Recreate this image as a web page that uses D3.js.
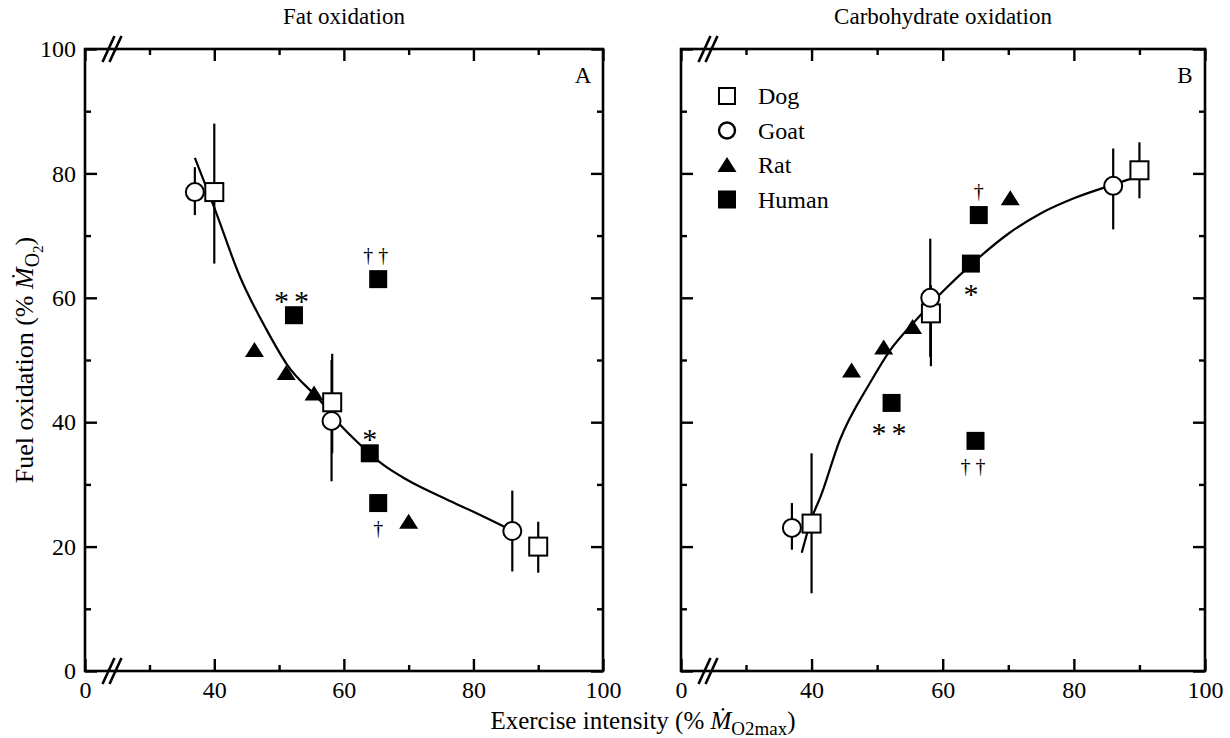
<header>
	<script src="https://d3js.org/d3.v7.min.js"></script>
</header>
<style>
	body {
		margin: 0;
		background: white;
	}
	text {
		font-family: "Liberation Serif", "Times New Roman", serif;
		fill: black;
	}
</style>

<script>

// rows: intensity (% MO2max), value (% MO2), error low, error high
const fatDog = [[40, 77, 65.5, 88], [58.2, 43.2, 35, 51], [90, 20, 15.8, 24]];
const fatGoat = [[37, 77, 73.3, 81], [58.1, 40.2, 30.5, 50], [86, 22.5, 16, 29]];
const fatRat = [[46.2, 51.6], [51.1, 47.9], [55.4, 44.6], [70, 24]];
const fatHuman = [[52.3, 57.2], [65.3, 63], [64, 35], [65.3, 27]];
const fatMarks = ["**", "\u2020\u2020", "*", "\u2020"];
const fatMarkSide = ["above", "above", "above", "below"];
const fatCurve = [
	[37, 82.5], [40, 74.5], [44, 63.3], [48, 55], [51.2, 49.3], [56.4, 43.4],
	[59.5, 39.5], [62.6, 36.3], [66, 33.2], [69.8, 30.7], [75, 28], [80, 25.6], [86.5, 22.3]
	];

const carbDog = [[40, 23.7, 12.5, 35], [58.2, 57.5, 49, 62], [90, 80.5, 76, 85]];
const carbGoat = [[37, 23, 19.5, 27], [58.1, 60, 50.5, 69.5], [86, 78, 71, 84]];
const carbRat = [[46.1, 48.3], [51, 52], [55.4, 55.3], [70.3, 76]];
const carbHuman = [[52.2, 43.1], [65, 37], [64.3, 65.5], [65.5, 73.3]];
const carbMarks = ["**", "\u2020\u2020", "*", "\u2020"];
const carbMarkSide = ["below", "below", "below", "above"];
const carbCurve = [
	[38.5, 19], [40, 24.5], [41.4, 28.1], [44.3, 37.1], [48.9, 46.3], [52, 51.6],
	[56, 56.5], [60, 61], [64.5, 65.5], [70, 70.3], [75, 73.6], [80, 76], [86, 78.2], [90, 79.6]
	];

const legendNames = ["Dog", "Goat", "Rat", "Human"];
const xLabelTicks = [0, 40, 60, 80, 100];
const xMinorTicks = [30, 50, 70, 90];
const yMajorTicks = [0, 20, 40, 60, 80, 100];
const yMinorTicks = [10, 30, 50, 70, 90];

const W = 1230, H = 738;

var svg = d3.select("body")
	.append("svg")
	.attr("width", W)
	.attr("height", H);

var yScale = d3.scaleLinear().domain([0, 100]).range([671, 49]);

// x axis is broken between 0 and 30
var xFat = d3.scaleLinear().domain([0, 30, 100]).range([85, 149.5, 603]);
var xCarb = d3.scaleLinear().domain([0, 30, 100]).range([681, 746, 1205]);

drawPanel(xFat, {
	title: "Fat oxidation", letter: "A", yLabels: true,
	dog: fatDog, goat: fatGoat, rat: fatRat, human: fatHuman,
	marks: fatMarks, side: fatMarkSide, curve: fatCurve
});
drawPanel(xCarb, {
	title: "Carbohydrate oxidation", letter: "B", yLabels: false,
	dog: carbDog, goat: carbGoat, rat: carbRat, human: carbHuman,
	marks: carbMarks, side: carbMarkSide, curve: carbCurve
});

function triangle(cx, cy) {
	return "M" + cx + "," + (cy - 8) + "L" + (cx + 9.5) + "," + (cy + 7) + "L" + (cx - 9.5) + "," + (cy + 7) + "Z";
}

function drawPanel(x, p) {
	var g = svg.append("g");
	var x0 = x(0), x1 = x(100), y0 = yScale(0), y1 = yScale(100);

	// ticks (all pointing inward)
	g.append("g").attr("transform", "translate(0," + y0 + ")")
		.call(d3.axisBottom(x).tickValues(xLabelTicks).tickSize(-12).tickPadding(10))
		.call(s => s.selectAll(".tick text").style("font-size", "24px").attr("fill", "black"));
	g.append("g").attr("transform", "translate(0," + y0 + ")")
		.call(d3.axisBottom(x).tickValues(xMinorTicks).tickSize(-6).tickFormat(""));
	g.append("g").attr("transform", "translate(0," + y1 + ")")
		.call(d3.axisTop(x).tickValues(xLabelTicks).tickSize(-12).tickFormat(""));
	g.append("g").attr("transform", "translate(0," + y1 + ")")
		.call(d3.axisTop(x).tickValues(xMinorTicks).tickSize(-6).tickFormat(""));

	var yAxis = d3.axisLeft(yScale).tickValues(yMajorTicks).tickSize(-12).tickPadding(9);
	if (!p.yLabels) yAxis.tickFormat("");
	g.append("g").attr("transform", "translate(" + x0 + ",0)")
		.call(yAxis)
		.call(s => s.selectAll(".tick text").style("font-size", "24px").attr("fill", "black"));
	g.append("g").attr("transform", "translate(" + x0 + ",0)")
		.call(d3.axisLeft(yScale).tickValues(yMinorTicks).tickSize(-6).tickFormat(""));
	g.append("g").attr("transform", "translate(" + x1 + ",0)")
		.call(d3.axisRight(yScale).tickValues(yMajorTicks).tickSize(-12).tickFormat(""));
	g.append("g").attr("transform", "translate(" + x1 + ",0)")
		.call(d3.axisRight(yScale).tickValues(yMinorTicks).tickSize(-6).tickFormat(""));

	g.selectAll(".domain").remove();
	g.selectAll(".tick line").attr("stroke", "black").attr("stroke-width", 2.4);

	g.append("rect")
		.attr("x", x0).attr("y", y1)
		.attr("width", x1 - x0).attr("height", y0 - y1)
		.attr("fill", "none")
		.attr("stroke", "black")
		.attr("stroke-width", 2.6);

	// axis break marks
	var bx = x0 + 27;
	[y0, y1].forEach(yy => {
		[-3.5, 3.5].forEach(off => {
			g.append("line")
				.attr("x1", bx + off - 6).attr("y1", yy + 13)
				.attr("x2", bx + off + 6).attr("y2", yy - 13)
				.attr("stroke", "black")
				.attr("stroke-width", 2.6);
		});
	});

	g.append("text")
		.attr("x", (x0 + x1) / 2)
		.attr("y", 24)
		.attr("text-anchor", "middle")
		.style("font-size", "23px")
		.text(p.title);

	g.append("text")
		.attr("x", x1 - 20)
		.attr("y", 83)
		.attr("text-anchor", "middle")
		.style("font-size", "23px")
		.text(p.letter);

	// fitted curve
	g.append("path")
		.datum(p.curve)
		.attr("d", d3.line().x(d => x(d[0])).y(d => yScale(d[1])).curve(d3.curveMonotoneX))
		.attr("fill", "none")
		.attr("stroke", "black")
		.attr("stroke-width", 2.2);

	// error bars
	g.selectAll(".err")
		.data(p.dog.concat(p.goat))
		.enter()
		.append("line")
		.attr("x1", d => x(d[0])).attr("x2", d => x(d[0]))
		.attr("y1", d => yScale(d[2])).attr("y2", d => yScale(d[3]))
		.attr("stroke", "black")
		.attr("stroke-width", 2.2);

	g.selectAll(".rat")
		.data(p.rat)
		.enter()
		.append("path")
		.attr("d", d => triangle(x(d[0]), yScale(d[1])))
		.attr("fill", "black");

	g.selectAll(".dog")
		.data(p.dog)
		.enter()
		.append("rect")
		.attr("x", d => x(d[0]) - 9).attr("y", d => yScale(d[1]) - 9)
		.attr("width", 18).attr("height", 18)
		.attr("fill", "white")
		.attr("stroke", "black")
		.attr("stroke-width", 2);

	g.selectAll(".goat")
		.data(p.goat)
		.enter()
		.append("circle")
		.attr("cx", d => x(d[0])).attr("cy", d => yScale(d[1]))
		.attr("r", 9)
		.attr("fill", "white")
		.attr("stroke", "black")
		.attr("stroke-width", 2);

	g.selectAll(".human")
		.data(p.human)
		.enter()
		.append("rect")
		.attr("x", d => x(d[0]) - 9).attr("y", d => yScale(d[1]) - 9)
		.attr("width", 18).attr("height", 18)
		.attr("fill", "black");

	// significance marks
	g.selectAll(".mark")
		.data(p.human)
		.enter()
		.append("text")
		.attr("x", d => x(d[0]))
		.attr("y", (d, i) => {
			var star = p.marks[i].charAt(0) == "*";
			if (p.side[i] == "above") return yScale(d[1]) + (star ? -4 : -17);
			return yScale(d[1]) + (star ? 40 : 32);
		})
		.attr("text-anchor", "middle")
		.style("font-size", (d, i) => p.marks[i].charAt(0) == "*" ? "30px" : "20px")
		.style("letter-spacing", (d, i) => p.marks[i].length > 1 ? "5px" : "0px")
		.text((d, i) => p.marks[i]);
}

// legend in panel B
var legend = svg.append("g");
legendNames.forEach((name, i) => {
	var ly = 96 + i * 34.5, lx = 727;
	if (i == 0) {
		legend.append("rect").attr("x", lx - 8).attr("y", ly - 8).attr("width", 16).attr("height", 16)
			.attr("fill", "white").attr("stroke", "black").attr("stroke-width", 2);
	} else if (i == 1) {
		legend.append("circle").attr("cx", lx).attr("cy", ly).attr("r", 8)
			.attr("fill", "white").attr("stroke", "black").attr("stroke-width", 2.4);
	} else if (i == 2) {
		legend.append("path").attr("d", triangle(lx, ly)).attr("fill", "black");
	} else {
		legend.append("rect").attr("x", lx - 9).attr("y", ly - 9).attr("width", 18).attr("height", 18)
			.attr("fill", "black");
	}
	legend.append("text")
		.attr("x", lx + 31)
		.attr("y", ly + 8)
		.style("font-size", "24px")
		.text(name);
});

// axis titles
var xt = svg.append("text")
	.attr("x", 643)
	.attr("y", 729)
	.attr("text-anchor", "middle")
	.style("font-size", "25px");
xt.append("tspan").text("Exercise intensity (% ");
xt.append("tspan").style("font-style", "italic").text("M\u0307");
xt.append("tspan").attr("dy", 6).style("font-size", "19px").text("O2max");
xt.append("tspan").attr("dy", -6).text(")");

var yt = svg.append("text")
	.attr("transform", "translate(33,360) rotate(-90)")
	.attr("text-anchor", "middle")
	.style("font-size", "26px");
yt.append("tspan").text("Fuel oxidation (% ");
yt.append("tspan").style("font-style", "italic").text("M\u0307");
yt.append("tspan").attr("dy", 6).style("font-size", "20px").text("O");
yt.append("tspan").attr("dy", 4).style("font-size", "15px").text("2");
yt.append("tspan").attr("dy", -10).text(")");

</script>
